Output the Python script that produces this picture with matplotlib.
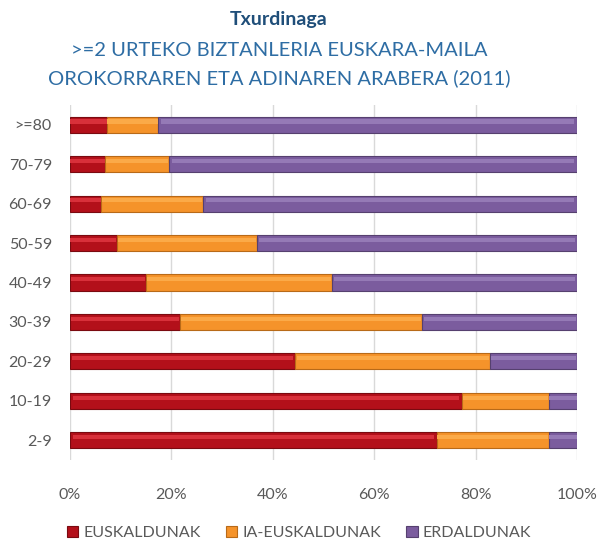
import numpy as np
import matplotlib.pyplot as plt

ages = ['2-9', '10-19', '20-29', '30-39', '40-49', '50-59', '60-69', '70-79', '>=80']
euskaldunak = [72.3, 77.4, 44.4, 21.6, 14.9, 9.2, 6.1, 7.0, 7.3]
ia_euskaldunak = [22.2, 17.0, 38.5, 47.9, 36.8, 27.6, 20.1, 12.5, 10.1]
erdaldunak = [5.5, 5.6, 17.1, 30.5, 48.3, 63.2, 73.8, 80.5, 82.6]
series = ['EUSKALDUNAK', 'IA-EUSKALDUNAK', 'ERDALDUNAK']
colors = ['#B3101A', '#F5932A', '#7B5C9E']
light = ['#D8303A', '#FBAA48', '#957AB6']
dark = ['#7A0A10', '#B86A18', '#56406F']

plt.rcParams['font.family'] = ['Lato', 'DejaVu Sans']

fig = plt.figure(figsize=(6.04, 5.45), dpi=100)
ax = fig.add_axes([70/604, 1-460/545, 507/604, 355/545])

y = np.arange(len(ages))
h = 0.41
left = np.zeros(len(ages))
for vals, c, lc, dc, name in zip([euskaldunak, ia_euskaldunak, erdaldunak], colors, light, dark, series):
    vals = np.array(vals)
    ax.barh(y, vals, left=left, height=h, color=c, edgecolor=dc, linewidth=0.8, label=name, zorder=3)
    # bevel highlight
    ax.barh(y + h*0.2, vals*0.985, left=left + vals*0.0075, height=h*0.25, color=lc, linewidth=0, zorder=4)
    left += vals

ax.set_xlim(0, 100)
ax.set_ylim(-0.5, 8.5)
ax.set_xticks(range(0, 101, 20))
ax.set_xticklabels([f'{v}%' for v in range(0, 101, 20)])
ax.set_yticks(y)
ax.set_yticklabels(ages)
ax.grid(axis='x', color='#D9D9D9', linewidth=1, zorder=0)
for s in ax.spines.values():
    s.set_visible(False)
ax.tick_params(axis='both', length=0, labelsize=11.5, labelcolor='#595959')
ax.tick_params(axis='x', pad=20)
ax.tick_params(axis='y', pad=13)

tx = 279/604
fig.text(tx, 1-20/545, 'Txurdinaga', ha='center', va='center', fontsize=14, fontweight='bold', color='#1F4E79')
fig.text(tx, 1-50/545, '>=2 URTEKO BIZTANLERIA EUSKARA-MAILA', ha='center', va='center', fontsize=14.5, color='#2E6DA4')
fig.text(tx, 1-78/545, 'OROKORRAREN ETA ADINAREN ARABERA (2011)', ha='center', va='center', fontsize=14.5, color='#2E6DA4')

handles, labels = ax.get_legend_handles_labels()
leg = fig.legend(handles, labels, loc='center', bbox_to_anchor=(299/604, 1-533/545), ncol=3, frameon=False,
                 fontsize=11.5, handlelength=0.7, handleheight=0.7, columnspacing=1.6, handletextpad=0.3)
for t in leg.get_texts():
    t.set_color('#595959')

fig.savefig('out.png', dpi=100)
